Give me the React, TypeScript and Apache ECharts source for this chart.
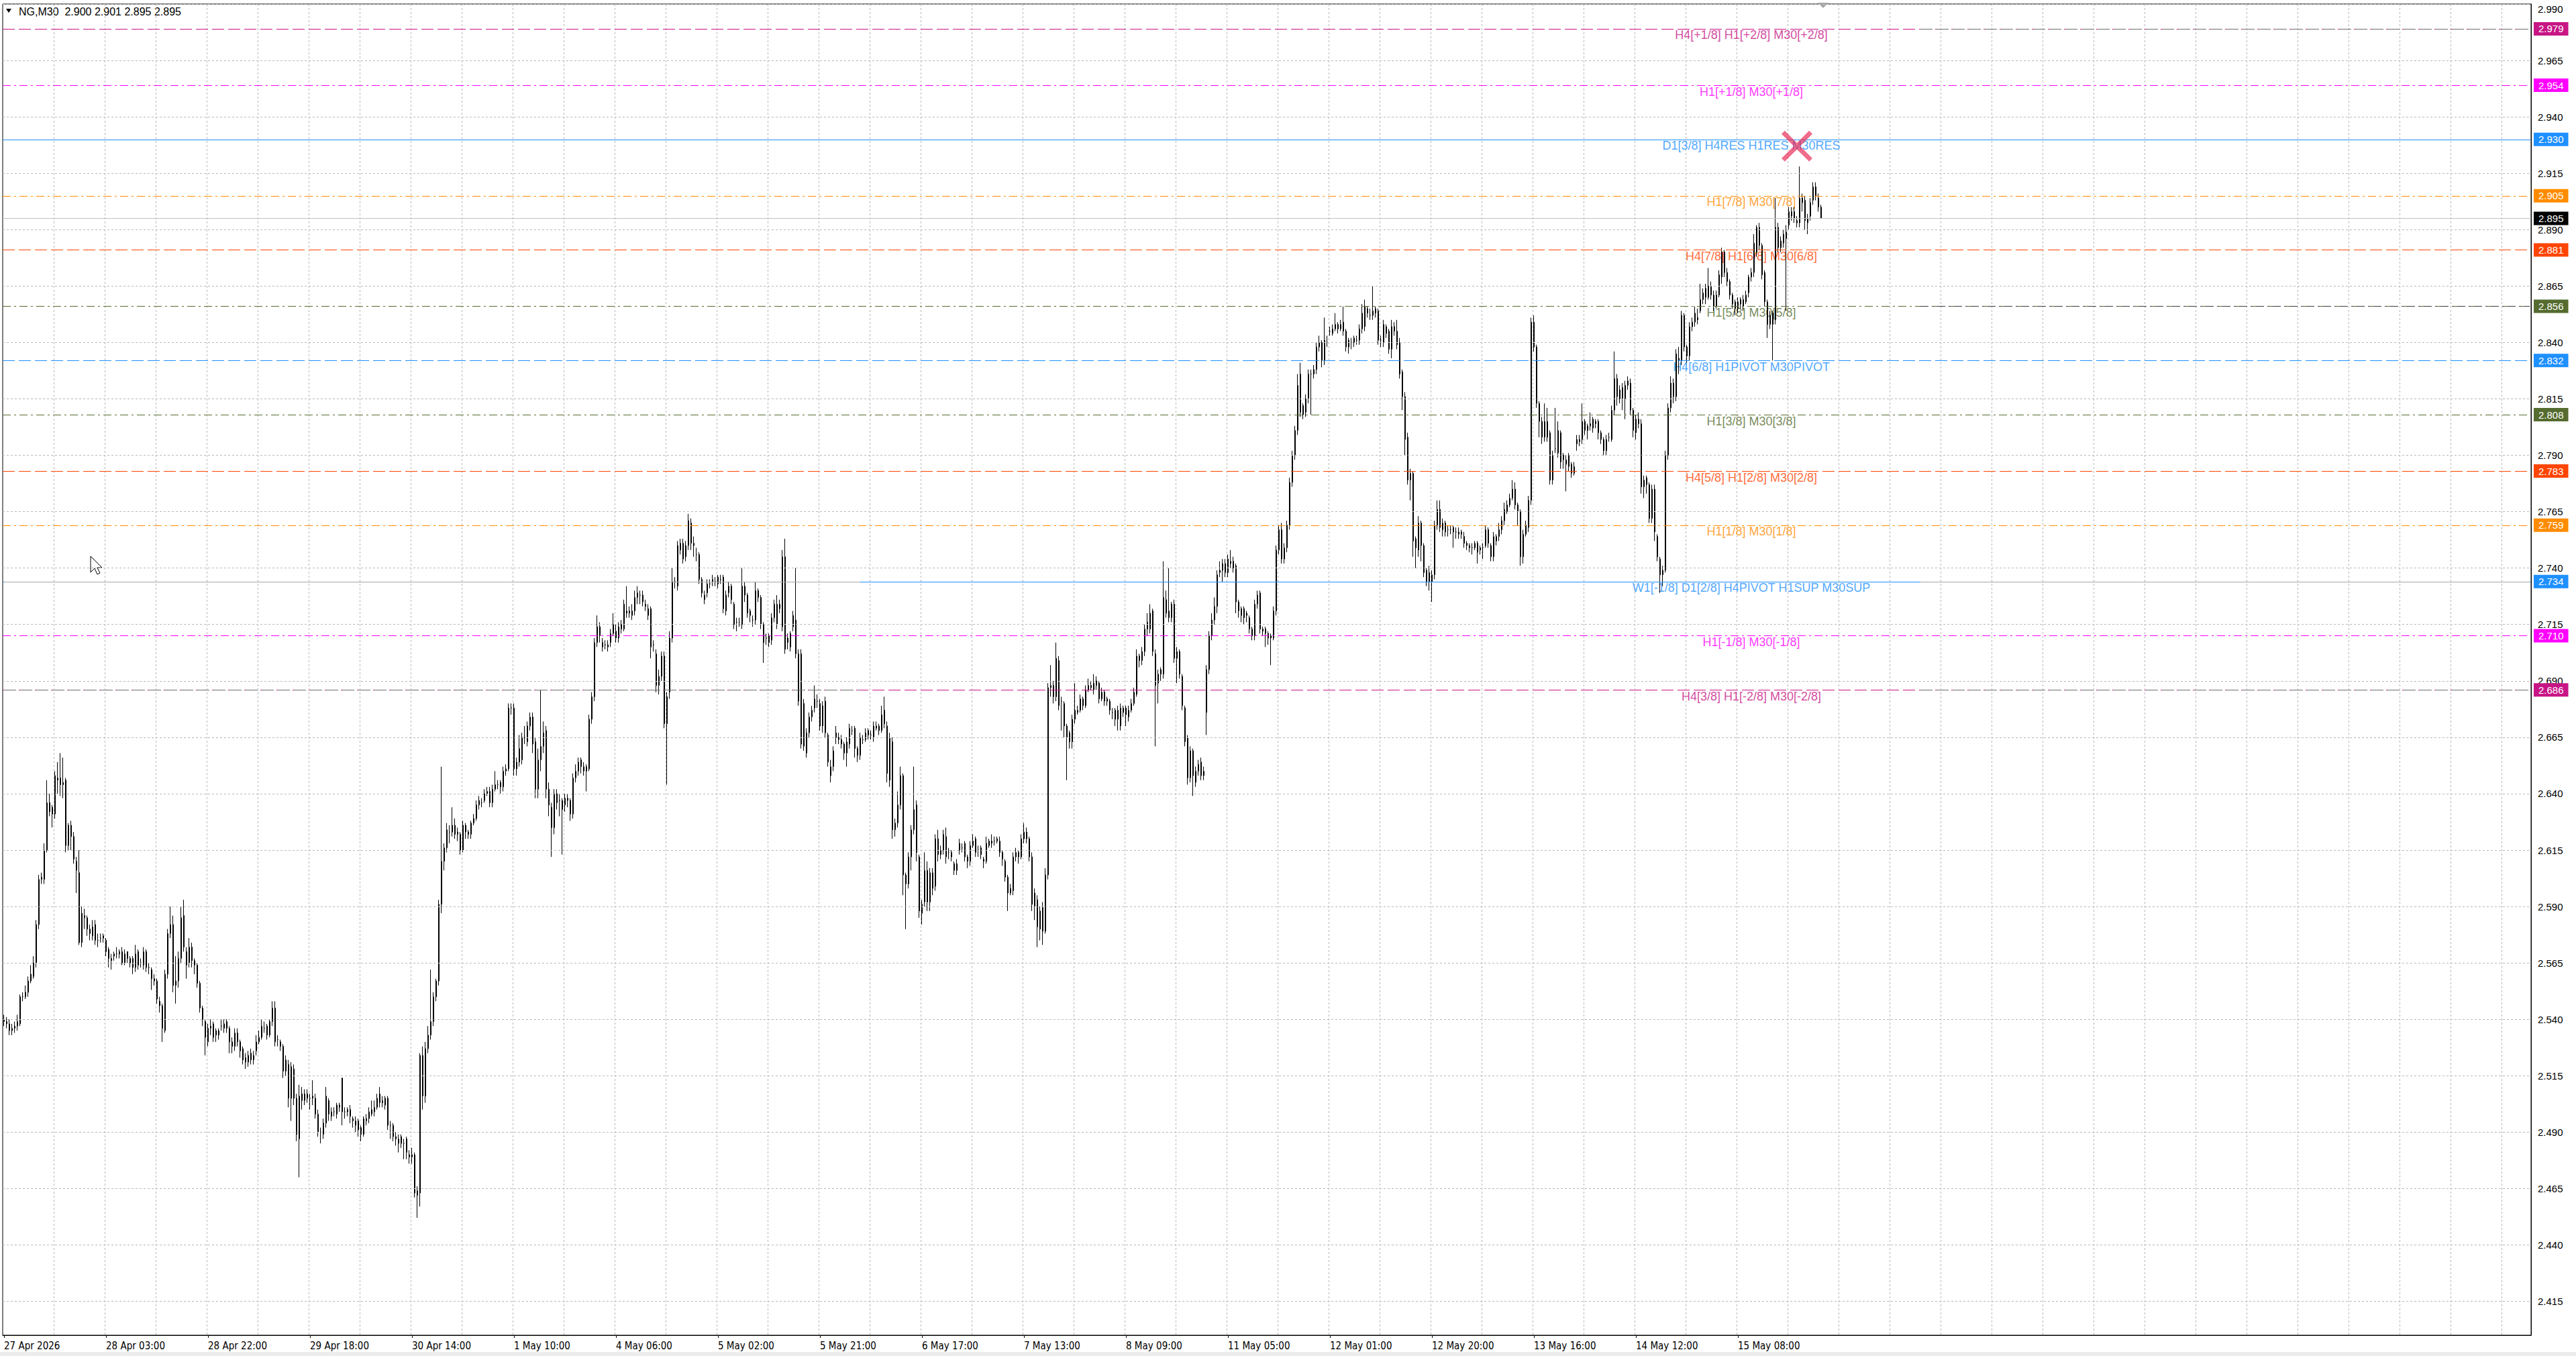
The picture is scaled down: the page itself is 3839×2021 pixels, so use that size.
import React, { useEffect, useRef } from 'react';
import * as echarts from 'echarts';

// one bar = [open, high, low, close] in thousandths of a dollar
type Bar = [number, number, number, number];

const apr27: Bar[] = [
  [2540,2542,2537,2539],[2539,2541,2536,2538],[2538,2540,2533,2535],[2535,2538,2533,2536],[2536,2539,2534,2537],
  [2537,2542,2535,2539],[2538,2551,2537,2550],[2550,2552,2548,2550],[2550,2555,2549,2552],[2552,2559,2550,2557],
  [2557,2564,2556,2560],[2559,2568,2558,2565],[2565,2584,2563,2582],[2582,2604,2580,2602],[2602,2605,2600,2603],
  [2602,2618,2600,2615],[2615,2646,2614,2636],[2636,2640,2630,2632],[2634,2635,2625,2631],[2631,2650,2629,2648],
  [2647,2654,2640,2646],[2647,2658,2639,2644],[2644,2656,2638,2645],[2646,2647,2614,2617],[2617,2627,2615,2626],
  [2626,2628,2615,2621],[2621,2623,2609,2611],[2610,2612,2596,2606],[2605,2615,2573,2574],[2574,2590,2572,2587],
  [2586,2589,2580,2585],[2585,2586,2577,2580],[2580,2582,2575,2578],[2577,2584,2575,2581],
];
const apr28: Bar[] = [
  [2582,2584,2573,2575],[2575,2578,2572,2575],[2576,2578,2574,2576],[2577,2578,2574,2576],[2575,2576,2568,2570],
  [2571,2572,2563,2567],[2566,2569,2562,2567],[2568,2570,2566,2569],[2569,2572,2567,2569],[2570,2571,2567,2569],
  [2570,2572,2564,2565],[2565,2571,2564,2569],[2570,2570,2565,2567],[2567,2568,2563,2565],[2567,2568,2560,2563],
  [2563,2573,2561,2569],[2570,2571,2562,2564],[2565,2567,2563,2565],[2564,2572,2562,2570],[2570,2571,2561,2563],
  [2563,2565,2560,2563],[2562,2563,2553,2558],[2558,2560,2555,2557],[2557,2558,2547,2549],[2548,2550,2543,2546],
  [2546,2547,2530,2536],[2535,2562,2534,2560],[2560,2580,2558,2578],[2578,2590,2576,2582],[2582,2586,2552,2555],
  [2555,2568,2547,2557],[2557,2570,2554,2567],[2567,2590,2565,2585],[2586,2593,2570,2572],[2570,2572,2558,2564],
  [2565,2576,2563,2572],[2572,2574,2563,2566],[2566,2567,2560,2564],[2564,2565,2554,2556],[2556,2557,2543,2545],
  [2545,2546,2537,2540],[2539,2540,2524,2532],[2530,2538,2528,2536],[2536,2540,2533,2537],[2538,2539,2530,2532],
  [2535,2536,2530,2533],
];
const apr29: Bar[] = [
  [2533,2536,2531,2535],[2537,2540,2535,2537],[2536,2540,2534,2538],[2539,2540,2534,2536],[2536,2537,2525,2530],
  [2530,2532,2525,2528],[2528,2536,2526,2534],[2534,2536,2528,2530],[2530,2531,2523,2526],[2527,2528,2520,2522],
  [2523,2525,2518,2521],[2521,2526,2519,2524],[2525,2527,2520,2522],[2522,2526,2520,2524],[2526,2533,2524,2530],
  [2530,2535,2529,2532],[2532,2540,2531,2537],[2536,2539,2534,2536],[2537,2538,2531,2533],[2533,2540,2532,2539],
  [2539,2548,2537,2545],[2545,2548,2528,2530],[2531,2533,2528,2531],[2530,2531,2526,2528],[2528,2529,2514,2517],
  [2517,2524,2515,2522],[2520,2522,2501,2505],[2505,2521,2495,2519],[2518,2520,2502,2505],[2505,2507,2486,2489],
  [2487,2511,2470,2506],[2507,2510,2500,2504],[2504,2509,2502,2507],[2507,2509,2503,2505],[2505,2507,2500,2505],
  [2505,2513,2502,2506],[2505,2507,2496,2498],[2498,2500,2488,2490],[2490,2492,2485,2490],[2489,2496,2487,2494],
  [2494,2510,2492,2506],[2504,2505,2495,2498],[2497,2501,2495,2499],[2499,2501,2497,2499],[2498,2503,2496,2502],
  [2502,2503,2499,2501],
];
const apr30: Bar[] = [
  [2514,2514,2493,2499],[2499,2501,2496,2499],[2500,2501,2497,2499],[2500,2502,2494,2497],[2496,2497,2492,2495],
  [2493,2497,2490,2495],[2495,2496,2488,2491],[2492,2493,2486,2489],[2489,2497,2488,2496],[2495,2498,2493,2496],
  [2496,2501,2494,2499],[2498,2504,2497,2500],[2499,2504,2497,2501],[2501,2507,2500,2505],[2507,2510,2501,2503],
  [2504,2506,2501,2503],[2502,2506,2500,2505],[2505,2506,2491,2493],[2493,2495,2487,2493],[2493,2494,2486,2488],
  [2488,2490,2484,2487],[2485,2489,2481,2487],[2488,2489,2483,2485],[2485,2487,2478,2485],[2487,2488,2478,2481],
  [2480,2482,2476,2479],[2479,2483,2476,2480],[2480,2481,2461,2463],[2464,2466,2452,2462],[2463,2525,2457,2524],
  [2524,2528,2500,2506],[2506,2530,2503,2527],[2527,2537,2525,2533],[2533,2562,2531,2539],[2539,2552,2537,2550],
  [2550,2558,2548,2557],[2557,2593,2555,2591],[2591,2652,2587,2610],[2610,2618,2606,2616],[2616,2627,2614,2624],
  [2623,2626,2618,2623],[2623,2634,2621,2626],[2626,2629,2620,2622],[2623,2625,2619,2622],[2622,2623,2613,2615],
  [2615,2628,2614,2626],
];
const may01: Bar[] = [
  [2626,2627,2620,2623],[2623,2624,2620,2622],[2622,2628,2620,2627],[2627,2631,2626,2629],[2629,2637,2628,2635],
  [2635,2639,2633,2637],[2636,2638,2634,2636],[2637,2642,2636,2640],[2640,2643,2639,2641],[2641,2643,2634,2636],
  [2636,2644,2634,2642],[2642,2650,2641,2644],[2644,2646,2642,2644],[2645,2646,2640,2643],[2643,2652,2641,2650],
  [2650,2653,2648,2651],[2651,2680,2650,2678],[2678,2680,2675,2678],[2678,2680,2648,2651],[2651,2656,2648,2654],
  [2654,2666,2652,2660],[2655,2667,2653,2665],[2665,2670,2662,2665],[2663,2672,2661,2670],[2670,2676,2668,2674],
  [2674,2676,2658,2662],[2663,2665,2638,2642],[2642,2660,2638,2655],[2655,2686,2650,2661],[2661,2672,2658,2667],
  [2668,2670,2638,2642],[2642,2645,2630,2635],[2634,2636,2612,2625],[2625,2642,2622,2640],[2640,2642,2633,2636],
  [2637,2640,2630,2637],[2637,2638,2613,2633],[2635,2640,2632,2638],[2638,2640,2634,2637],[2637,2638,2628,2631],
  [2631,2649,2629,2647],[2647,2653,2645,2650],[2650,2656,2648,2654],[2655,2656,2649,2652],[2650,2654,2648,2652],
  [2652,2653,2641,2650],
];
const may04: Bar[] = [
  [2651,2675,2650,2673],[2673,2685,2671,2683],[2683,2709,2681,2707],[2707,2719,2705,2714],[2714,2716,2707,2710],
  [2707,2709,2703,2705],[2706,2708,2704,2706],[2705,2708,2703,2706],[2707,2713,2705,2711],[2711,2720,2710,2715],
  [2712,2715,2707,2709],[2709,2716,2707,2714],[2715,2717,2711,2713],[2713,2726,2712,2724],[2720,2732,2718,2721],
  [2721,2723,2718,2720],[2719,2724,2717,2721],[2721,2730,2719,2727],[2729,2732,2724,2727],[2728,2730,2724,2728],
  [2728,2730,2723,2725],[2724,2726,2721,2723],[2719,2724,2717,2722],[2722,2723,2700,2705],[2706,2708,2703,2706],
  [2702,2704,2685,2688],[2688,2695,2684,2692],[2692,2703,2690,2701],[2701,2703,2669,2671],[2683,2685,2644,2671],
  [2685,2712,2682,2709],[2709,2740,2707,2734],[2734,2736,2731,2734],[2732,2752,2730,2750],[2748,2753,2746,2751],
  [2751,2753,2742,2744],[2745,2752,2743,2750],[2750,2764,2748,2761],[2760,2762,2748,2751],[2751,2754,2745,2750],
  [2746,2749,2743,2746],[2746,2747,2733,2735],[2735,2736,2727,2729],[2726,2730,2724,2728],[2729,2735,2727,2733],
  [2733,2735,2731,2733],
];
const may05: Bar[] = [
  [2734,2737,2732,2735],[2734,2736,2732,2734],[2733,2737,2731,2736],[2735,2737,2733,2735],[2736,2737,2720,2722],
  [2728,2730,2719,2721],[2729,2734,2727,2732],[2732,2733,2724,2726],[2724,2725,2713,2715],[2716,2718,2712,2716],
  [2716,2718,2714,2716],[2715,2740,2713,2732],[2732,2734,2725,2728],[2728,2729,2718,2720],[2721,2722,2716,2719],
  [2717,2719,2714,2717],[2717,2734,2715,2730],[2730,2731,2725,2727],[2727,2728,2713,2715],[2715,2716,2698,2707],
  [2709,2711,2706,2709],[2710,2711,2705,2707],[2708,2720,2706,2718],[2718,2726,2716,2724],[2715,2728,2713,2724],
  [2722,2726,2720,2724],[2714,2748,2712,2745],[2745,2753,2702,2704],[2709,2711,2704,2707],[2711,2712,2703,2705],
  [2714,2721,2712,2719],[2717,2740,2700,2702],[2702,2704,2679,2681],[2702,2704,2660,2662],[2680,2682,2659,2661],
  [2658,2669,2656,2667],[2667,2676,2665,2674],[2674,2679,2672,2677],[2678,2688,2676,2682],[2681,2684,2678,2681],
  [2680,2682,2668,2670],[2679,2681,2667,2670],[2681,2683,2665,2667],[2666,2667,2652,2654],[2648,2655,2645,2652],
  [2652,2661,2650,2659],
];
const may06: Bar[] = [
  [2667,2670,2662,2665],[2664,2667,2662,2665],[2664,2666,2660,2662],[2662,2663,2655,2658],[2658,2665,2652,2663],
  [2662,2671,2660,2669],[2668,2670,2666,2668],[2669,2670,2656,2660],[2660,2661,2654,2657],[2657,2667,2655,2665],
  [2664,2666,2662,2664],[2664,2669,2663,2667],[2668,2669,2664,2666],[2666,2668,2664,2666],[2665,2672,2663,2670],
  [2669,2672,2668,2670],[2670,2671,2666,2668],[2668,2679,2667,2675],[2677,2683,2669,2671],[2670,2672,2645,2649],
  [2665,2667,2643,2646],[2663,2665,2620,2624],[2624,2629,2621,2627],[2627,2641,2625,2635],[2635,2652,2633,2648],
  [2648,2649,2595,2604],[2604,2605,2580,2600],[2600,2614,2598,2612],[2612,2626,2606,2624],[2624,2652,2622,2633],
  [2635,2637,2610,2614],[2612,2613,2585,2588],[2587,2593,2582,2591],[2592,2614,2590,2606],[2606,2610,2588,2592],
  [2592,2607,2588,2605],[2605,2607,2595,2598],[2599,2622,2597,2620],[2620,2624,2610,2613],[2613,2617,2611,2615],
  [2615,2624,2613,2622],[2621,2625,2609,2612],[2614,2616,2611,2614],[2614,2615,2610,2612],[2609,2610,2604,2606],
  [2606,2611,2604,2609],
];
const may07: Bar[] = [
  [2615,2620,2613,2618],[2616,2618,2614,2616],[2618,2619,2610,2612],[2612,2613,2607,2610],[2610,2619,2608,2617],
  [2617,2622,2616,2619],[2620,2621,2612,2614],[2615,2617,2612,2615],[2616,2617,2611,2613],[2611,2612,2607,2610],
  [2610,2621,2609,2618],[2619,2620,2616,2617],[2619,2622,2616,2618],[2619,2621,2617,2619],[2619,2621,2618,2620],
  [2619,2621,2612,2614],[2614,2615,2608,2611],[2610,2611,2601,2603],[2603,2604,2588,2596],[2596,2600,2595,2598],
  [2597,2614,2595,2612],[2612,2616,2610,2614],[2614,2615,2609,2612],[2612,2622,2611,2620],[2620,2627,2618,2623],
  [2623,2625,2618,2620],[2620,2621,2610,2612],[2612,2614,2588,2591],[2596,2598,2584,2590],[2593,2595,2572,2581],
  [2588,2590,2575,2580],[2590,2592,2573,2579],[2579,2607,2578,2604],[2604,2689,2602,2687],[2687,2697,2683,2688],
  [2688,2690,2680,2683],[2683,2707,2681,2700],[2699,2701,2677,2679],[2681,2683,2668,2681],[2680,2681,2665,2670],
  [2670,2671,2646,2665],[2667,2668,2660,2663],[2663,2675,2660,2673],[2673,2689,2671,2677],[2676,2679,2675,2677],
  [2677,2684,2676,2682],
];
const may08: Bar[] = [
  [2682,2683,2677,2679],[2679,2688,2678,2686],[2686,2691,2685,2688],[2687,2690,2686,2688],[2686,2693,2684,2689],
  [2690,2692,2686,2688],[2689,2690,2680,2682],[2682,2687,2681,2685],[2685,2686,2679,2681],[2682,2683,2679,2681],
  [2681,2682,2675,2677],[2676,2678,2673,2676],[2677,2678,2670,2673],[2673,2679,2668,2677],[2670,2680,2668,2678],
  [2678,2679,2674,2676],[2678,2679,2670,2675],[2674,2679,2672,2677],[2677,2682,2676,2680],[2680,2687,2679,2685],
  [2684,2704,2683,2701],[2701,2702,2696,2699],[2699,2705,2697,2703],[2703,2715,2701,2713],[2716,2720,2710,2713],
  [2713,2724,2711,2720],[2721,2722,2701,2703],[2702,2704,2661,2688],[2689,2695,2680,2693],[2695,2696,2690,2693],
  [2693,2743,2691,2727],[2726,2730,2718,2720],[2721,2740,2716,2718],[2718,2725,2716,2724],[2724,2726,2698,2700],
  [2700,2705,2689,2703],[2703,2704,2691,2693],[2692,2693,2677,2679],[2678,2679,2661,2663],[2665,2666,2644,2647],
  [2647,2661,2645,2659],[2659,2660,2639,2648],[2645,2652,2643,2650],[2650,2655,2648,2653],[2654,2656,2646,2648],
  [2648,2652,2646,2650],
];
const may11: Bar[] = [
  [2676,2697,2666,2695],[2695,2712,2693,2710],[2710,2720,2708,2717],[2717,2727,2715,2723],[2723,2739,2720,2737],
  [2738,2743,2736,2739],[2739,2744,2734,2742],[2742,2744,2736,2738],[2738,2746,2736,2744],[2742,2748,2740,2743],
  [2743,2745,2738,2740],[2741,2742,2720,2725],[2725,2726,2718,2721],[2722,2723,2716,2719],[2722,2723,2715,2718],
  [2720,2721,2716,2719],[2718,2719,2711,2713],[2713,2714,2708,2710],[2710,2726,2708,2724],[2724,2730,2722,2728],
  [2729,2730,2711,2713],[2713,2714,2710,2712],[2713,2714,2705,2711],[2711,2712,2706,2709],[2710,2711,2697,2709],
  [2709,2723,2708,2721],[2721,2750,2719,2748],[2748,2759,2746,2757],[2757,2760,2742,2744],[2744,2751,2742,2749],
  [2749,2761,2747,2759],[2759,2780,2757,2778],[2778,2792,2776,2790],[2790,2803,2788,2801],[2801,2826,2799,2821],
  [2826,2831,2807,2809],[2812,2813,2806,2808],[2809,2817,2807,2815],[2815,2828,2813,2826],[2826,2828,2808,2826],
  [2826,2830,2824,2828],[2828,2840,2826,2838],[2838,2843,2836,2840],[2840,2841,2829,2832],[2832,2851,2830,2841],
  [2840,2843,2838,2840],
];
const may12: Bar[] = [
  [2845,2847,2843,2845],[2844,2848,2843,2846],[2846,2853,2845,2848],[2848,2849,2844,2846],[2846,2850,2845,2848],
  [2849,2856,2843,2845],[2845,2846,2836,2838],[2841,2842,2835,2838],[2840,2842,2837,2840],[2840,2843,2838,2842],
  [2841,2843,2839,2841],[2841,2848,2839,2846],[2846,2857,2844,2853],[2847,2859,2845,2856],[2855,2856,2851,2853],
  [2852,2855,2850,2852],[2852,2865,2850,2854],[2855,2856,2851,2853],[2854,2855,2839,2841],[2841,2843,2838,2841],
  [2840,2850,2838,2848],[2847,2848,2842,2844],[2845,2846,2835,2837],[2837,2850,2833,2847],[2847,2849,2843,2845],
  [2845,2850,2837,2839],[2840,2842,2824,2826],[2827,2828,2810,2816],[2816,2818,2790,2797],[2798,2800,2777,2779],
  [2779,2784,2770,2782],[2782,2783,2745,2752],[2753,2754,2740,2749],[2748,2763,2745,2760],[2760,2761,2743,2750],
  [2750,2751,2736,2738],[2739,2740,2732,2734],[2738,2741,2730,2734],[2734,2739,2725,2737],[2737,2761,2735,2759],
  [2759,2770,2757,2766],[2766,2770,2756,2758],[2757,2762,2754,2760],[2760,2761,2754,2756],[2757,2759,2754,2757],
  [2757,2759,2755,2757],
];
const may13: Bar[] = [
  [2758,2759,2749,2756],[2756,2758,2753,2756],[2755,2758,2753,2756],[2756,2757,2753,2755],[2754,2756,2749,2751],
  [2751,2752,2748,2750],[2750,2751,2747,2749],[2749,2751,2746,2749],[2749,2752,2748,2751],[2751,2752,2742,2747],
  [2748,2750,2746,2749],[2749,2751,2744,2749],[2750,2759,2749,2757],[2757,2758,2749,2751],[2750,2751,2743,2745],
  [2745,2756,2743,2754],[2752,2755,2750,2754],[2754,2760,2752,2757],[2757,2763,2755,2761],[2761,2769,2759,2766],
  [2765,2770,2764,2768],[2768,2773,2767,2771],[2771,2779,2770,2775],[2775,2778,2766,2768],[2768,2769,2759,2765],
  [2765,2766,2741,2745],[2745,2757,2742,2755],[2755,2761,2754,2759],[2758,2772,2756,2770],[2770,2851,2768,2849],
  [2849,2852,2836,2838],[2838,2839,2811,2813],[2813,2814,2798,2805],[2805,2807,2795,2798],[2798,2813,2796,2805],
  [2805,2811,2796,2798],[2800,2801,2777,2779],[2779,2792,2777,2790],[2793,2811,2791,2793],[2791,2805,2789,2801],
  [2800,2801,2784,2787],[2790,2791,2784,2788],[2786,2790,2774,2788],[2790,2791,2783,2785],[2786,2787,2780,2782],
  [2782,2787,2781,2785],
];
const may14: Bar[] = [
  [2795,2799,2792,2797],[2796,2799,2794,2797],[2797,2813,2795,2805],[2805,2806,2799,2801],[2803,2804,2797,2801],
  [2804,2809,2801,2803],[2802,2807,2800,2806],[2804,2806,2802,2805],[2805,2806,2797,2800],[2800,2801,2795,2797],
  [2797,2798,2790,2792],[2792,2799,2790,2797],[2798,2800,2796,2798],[2797,2812,2796,2810],[2810,2836,2808,2824],
  [2824,2826,2812,2816],[2815,2821,2813,2819],[2820,2822,2810,2815],[2815,2823,2806,2821],[2821,2825,2819,2823],
  [2822,2824,2808,2810],[2810,2811,2798,2801],[2800,2808,2797,2806],[2806,2809,2802,2804],[2804,2806,2773,2776],
  [2776,2781,2771,2779],[2780,2781,2773,2777],[2777,2778,2760,2762],[2762,2777,2760,2775],[2775,2777,2752,2756],
  [2754,2755,2743,2745],[2744,2745,2729,2737],[2737,2741,2732,2739],[2739,2792,2738,2790],[2790,2813,2788,2811],
  [2811,2825,2809,2822],[2822,2824,2813,2816],[2816,2837,2814,2835],[2833,2838,2826,2832],[2832,2854,2830,2852],
  [2852,2853,2836,2838],[2838,2839,2831,2834],[2834,2849,2832,2847],[2847,2851,2845,2849],[2849,2856,2847,2853],
  [2851,2855,2848,2850],
];
const may15: Bar[] = [
  [2854,2866,2853,2859],[2859,2864,2857,2862],[2864,2866,2857,2860],[2860,2873,2859,2865],[2865,2867,2859,2861],
  [2861,2863,2854,2856],[2856,2863,2855,2861],[2861,2872,2860,2870],[2869,2882,2866,2880],[2880,2881,2869,2871],
  [2871,2873,2865,2867],[2867,2868,2859,2861],[2861,2862,2855,2857],[2858,2859,2852,2855],[2855,2860,2853,2858],
  [2859,2860,2855,2857],[2856,2861,2854,2859],[2858,2863,2857,2861],[2862,2870,2860,2869],[2869,2873,2867,2871],
  [2871,2888,2869,2884],[2880,2892,2878,2891],[2891,2893,2881,2883],[2883,2884,2868,2870],[2871,2872,2856,2858],
  [2858,2859,2842,2848],[2848,2854,2846,2852],[2853,2854,2832,2848],[2850,2904,2848,2891],[2891,2893,2880,2882],
  [2882,2887,2880,2885],[2884,2890,2882,2888],[2886,2892,2854,2889],[2892,2900,2890,2898],[2896,2900,2894,2898],
  [2898,2900,2893,2895],[2894,2896,2891,2893],[2893,2918,2891,2904],[2904,2906,2898,2902],[2903,2905,2890,2894],
  [2893,2897,2888,2895],[2896,2904,2894,2902],[2903,2911,2901,2909],[2909,2911,2903,2905],[2904,2906,2898,2900],
  [2900,2901,2895,2895],
];

const sessions = [apr27, apr28, apr29, apr30, may01, may04, may05, may06, may07, may08, may11, may12, may13, may14, may15];

const timeLabels = [
  '27 Apr 2026', '28 Apr 03:00', '28 Apr 22:00', '29 Apr 18:00', '30 Apr 14:00', '1 May 10:00',
  '4 May 06:00', '5 May 02:00', '5 May 21:00', '6 May 17:00', '7 May 13:00', '8 May 09:00',
  '11 May 05:00', '12 May 01:00', '12 May 20:00', '13 May 16:00', '14 May 12:00', '15 May 08:00',
];

const priceTicks = [
  2.415, 2.44, 2.465, 2.49, 2.515, 2.54, 2.565, 2.59, 2.615, 2.64, 2.665, 2.69,
  2.715, 2.74, 2.765, 2.79, 2.815, 2.84, 2.865, 2.89, 2.915, 2.94, 2.965, 2.99,
];

const levels = [2.979, 2.954, 2.93, 2.905, 2.881, 2.856, 2.832, 2.808, 2.783, 2.759, 2.734, 2.71, 2.686];
const levelTexts = [
  'H4[+1/8] H1[+2/8] M30[+2/8]',
  'H1[+1/8] M30[+1/8]',
  'D1[3/8] H4RES H1RES M30RES',
  'H1[7/8] M30[7/8]',
  'H4[7/8] H1[6/8] M30[6/8]',
  'H1[5/8] M30[5/8]',
  'H4[6/8] H1PIVOT M30PIVOT',
  'H1[3/8] M30[3/8]',
  'H4[5/8] H1[2/8] M30[2/8]',
  'H1[1/8] M30[1/8]',
  'W1[-1/8] D1[2/8] H4PIVOT H1SUP M30SUP',
  'H1[-1/8] M30[-1/8]',
  'H4[3/8] H1[-2/8] M30[-2/8]',
];
const levelColors = [
  '#C71585', '#FF00FF', '#1E90FF', '#FF8C00', '#FF4500', '#556B2F', '#1E90FF',
  '#556B2F', '#FF4500', '#FF8C00', '#1E90FF', '#FF00FF', '#C71585',
];
const levelDashes = [
  'dash', 'dashdot', 'solid', 'dashdot', 'dash', 'dashdot', 'dash',
  'dashdot', 'dash', 'dashdot', 'solid', 'dashdot', 'dash',
];

// grey pieces of the level lines drawn by other timeframes: [price, fromBar, toBar, colour, dash]
const greyRuns: [number, number, number, string, string][] = [
  [2.979, 714, 941, '#6e6e6e', 'dash'],
  [2.856, 714, 941, '#3c3c3c', 'dashdot'],
  [2.734, 0, 319, '#a6a6a6', 'solid'],
  [2.734, 714, 941, '#a6a6a6', 'solid'],
  [2.686, 0, 319, '#6e6e6e', 'dash'],
  [2.686, 714, 941, '#6e6e6e', 'dash'],
];

const SLOTS = 942;
const LABEL_STEP = 38;
const GRID_STEP = 19;
const LABEL_BAR = 651;

const FONT = "'Liberation Sans', Arial, sans-serif";
const NARROW = "'Liberation Sans Narrow', 'DejaVu Sans Condensed', 'Liberation Sans', sans-serif";

const dashOf = (d: string): any =>
  d === 'dash' ? [18, 6] : d === 'dashdot' ? [12, 5, 3, 5] : 'solid';

const App: React.FC = () => {
  const chartRef = useRef<HTMLDivElement | null>(null);

  useEffect(() => {
    document.body.style.margin = '0';
    if (!chartRef.current) return;
    const chart = echarts.init(chartRef.current, undefined, { renderer: 'svg' });

    const bars = sessions.flat();
    const candles = bars.map(([o, h, l, c]) => [o / 1000, c / 1000, l / 1000, h / 1000]);
    const last = bars[bars.length - 1];
    const lastClose = last[3] / 1000;
    const categories = Array.from({ length: SLOTS }, (_, i) => String(i));
    const topTick = priceTicks[priceTicks.length - 1];

    const option = {
      animation: false,
      backgroundColor: '#ffffff',
      grid: {
        left: 4, right: 67, top: 6, bottom: 31,
        show: true, borderColor: '#000', borderWidth: 1, backgroundColor: '#fff',
      },
      xAxis: {
        type: 'category',
        data: categories,
        boundaryGap: true,
        axisLine: { show: true, lineStyle: { color: '#000', width: 1 } },
        axisTick: {
          show: true, alignWithLabel: true, length: 4, lineStyle: { color: '#000' },
          interval: (i: number) => i % LABEL_STEP === 0 && i / LABEL_STEP < timeLabels.length,
        },
        axisLabel: {
          show: true,
          interval: (i: number) => i % LABEL_STEP === 0 && i / LABEL_STEP < timeLabels.length,
          formatter: (_v: string, i: number) => timeLabels[i / LABEL_STEP] ?? '',
          align: 'left', margin: 8, color: '#000', fontSize: 15, fontFamily: NARROW,
        },
        splitLine: {
          show: true,
          interval: (i: number) => i > 0 && i % GRID_STEP === 0,
          lineStyle: { color: '#b8b8b8', type: [3, 3], width: 1 },
        },
      },
      yAxis: {
        type: 'value', position: 'right', min: 2.4, max: 2.99,
        axisLine: { show: true, lineStyle: { color: '#000' } },
        axisTick: { show: false }, axisLabel: { show: false }, splitLine: { show: false },
      },
      graphic: [
        { type: 'polygon', shape: { points: [[9, 13], [17, 13], [13, 19]] }, style: { fill: '#000' } },
        {
          type: 'text', x: 28, y: 17,
          style: {
            text: `NG,M30  ${last.map((v) => (v / 1000).toFixed(3)).join(' ')}`,
            fill: '#000', fontSize: 16, fontFamily: FONT, verticalAlign: 'middle',
          },
        },
        { type: 'polygon', shape: { points: [[2709, 4], [2725, 4], [2717, 12]] }, style: { fill: '#a8a8a8' } },
        {
          type: 'polygon',
          shape: { points: [[135, 829], [135, 853], [141, 847], [145, 856], [149, 854], [145, 846], [152, 846]] },
          style: { fill: '#fff', stroke: '#000', lineWidth: 1 },
        },
        { type: 'rect', shape: { x: 0, y: 2015, width: 3839, height: 6 }, style: { fill: '#ececec' } },
      ],
      series: [
        {
          // grid lines and price scale
          type: 'line', data: [], z: 1, silent: true,
          markLine: {
            silent: true, symbol: 'none', animation: false, precision: 4,
            lineStyle: { color: '#b8b8b8', type: [3, 3], width: 1 },
            label: { show: true, position: 'end', distance: 10, color: '#000', fontSize: 15, fontFamily: FONT },
            data: priceTicks.map((v) => ({
              yAxis: v,
              label: v === topTick
                ? { formatter: v.toFixed(3), verticalAlign: 'top' }
                : { formatter: v.toFixed(3) },
            })),
          },
        },
        {
          // level texts and level lines
          type: 'scatter', z: 2, silent: true, symbolSize: 1,
          itemStyle: { color: 'rgba(0,0,0,0)' },
          data: levels.map((p, k) => ({
            value: [LABEL_BAR, p],
            label: {
              show: true, position: 'bottom', distance: 0, formatter: levelTexts[k],
              color: levelColors[k], fontSize: 18, lineHeight: 18, fontFamily: FONT,
            },
          })),
          markLine: {
            silent: true, symbol: 'none', animation: false, precision: 4,
            label: {
              show: true, position: 'end', distance: 4, color: '#fff', fontSize: 15, lineHeight: 15,
              fontFamily: FONT, padding: [3, 7, 2, 7],
            },
            data: [
              ...levels.map((p, k) => ({
                yAxis: p,
                lineStyle: { color: levelColors[k], type: dashOf(levelDashes[k]), width: 1 },
                label: { formatter: p.toFixed(3), backgroundColor: levelColors[k] },
              })),
              {
                yAxis: lastClose,
                lineStyle: { color: '#c0c0c0', type: 'solid', width: 1 },
                label: { formatter: lastClose.toFixed(3), backgroundColor: '#000' },
              },
            ],
          },
        },
        {
          type: 'line', data: [], z: 3, silent: true,
          markLine: {
            silent: true, symbol: 'none', animation: false, precision: 4, label: { show: false },
            data: greyRuns.map(([p, a, b, col, d]) => [
              { xAxis: a, yAxis: p, lineStyle: { color: col, type: dashOf(d), width: 1 } },
              { xAxis: b, yAxis: p },
            ]),
          },
        },
        {
          type: 'candlestick', name: 'NG,M30', z: 4, large: false, barWidth: 2,
          data: candles,
          itemStyle: { color: '#ffffff', color0: '#000000', borderColor: '#000000', borderColor0: '#000000', borderWidth: 1 },
        },
        {
          type: 'scatter', z: 5, silent: true,
          symbol: 'path://M5,0 L24,19 L43,0 L48,5 L29,24 L48,43 L43,48 L24,29 L5,48 L0,43 L19,24 L0,5 Z',
          symbolSize: [46, 46],
          itemStyle: { color: 'rgba(232, 38, 82, 0.85)' },
          data: [[668, 2.927]],
        },
      ],
    };

    chart.setOption(option as any);
    return () => {
      chart.dispose();
    };
  }, []);

  return <div ref={chartRef} style={{ position: 'absolute', left: 0, top: 0, width: '3839px', height: '2021px' }} />;
};

export default App;
